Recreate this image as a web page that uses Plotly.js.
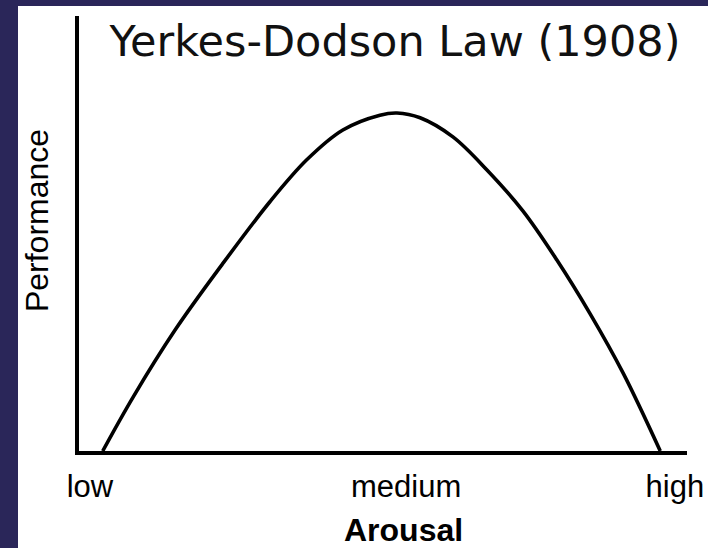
<!DOCTYPE html>
<html>
<head>
<meta charset="utf-8">
<script src="https://cdn.plot.ly/plotly-3.0.1.min.js"></script>
<style>
  html, body { margin: 0; padding: 0; width: 708px; height: 548px; background: #2a2659; overflow: hidden; }
  #chart { position: absolute; left: 18px; top: 6px; width: 690px; height: 542px; background: #ffffff; }
</style>
</head>
<body>
<div id="chart"></div>
<script>
// Data (arousal 0-100, performance 0-100)
const arousal = [3.9, 8.9, 15.8, 23.5, 31.4, 37.5, 43.4, 49.5, 52.3, 56.1, 61.5, 67.1, 73.0, 78.6, 84.0, 89.5, 95.6];
const performance = [0, 12.4, 27.8, 42.8, 57.3, 67.0, 73.8, 77.2, 77.7, 76.6, 72.2, 64.6, 55.2, 43.9, 31.7, 17.9, 0];
const tickPositions = [1.8, 53.8, 98.0];
const tickLabels = ["low", "medium", "high"];
const titleText = "Yerkes-Dodson Law (1908)";
const xTitle = "Arousal";
const yTitle = "Performance";

const trace = {
  x: arousal,
  y: performance,
  type: "scatter",
  mode: "lines",
  line: { color: "#000000", width: 3.6, shape: "spline", smoothing: 1 },
  hoverinfo: "x+y",
  showlegend: false
};

const layout = {
  width: 690,
  height: 542,
  margin: { l: 61, r: 21, t: 10, b: 97 },
  paper_bgcolor: "#ffffff",
  plot_bgcolor: "#ffffff",
  title: {
    text: titleText,
    font: { family: "DejaVu Sans, Verdana, sans-serif", size: 43, color: "#111111" },
    xref: "container", yref: "container",
    x: 0.5464, xanchor: "center",
    y: 0.935, yanchor: "middle"
  },
  xaxis: {
    range: [0, 100],
    showgrid: false, zeroline: false,
    showline: true, linecolor: "#000000", linewidth: 4,
    ticks: "",
    tickmode: "array", tickvals: tickPositions, ticktext: tickLabels,
    tickfont: { family: "Liberation Sans, Arial, sans-serif", size: 31, color: "#000000" },
    ticklabelstandoff: 5,
    fixedrange: true
  },
  yaxis: {
    range: [0, 100],
    showgrid: false, zeroline: false,
    showline: true, linecolor: "#000000", linewidth: 4,
    ticks: "", showticklabels: false,
    fixedrange: true
  },
  annotations: [
    {
      text: xTitle, xref: "paper", yref: "paper",
      x: 0.533, y: -0.1816, xanchor: "center", yanchor: "middle",
      showarrow: false,
      font: { family: "Liberation Sans, Arial, sans-serif", size: 32, color: "#000000", weight: "bold" }
    },
    {
      text: yTitle, xref: "paper", yref: "paper",
      x: -0.069, y: 0.5287, xanchor: "center", yanchor: "middle",
      textangle: -90, showarrow: false,
      font: { family: "Liberation Sans, Arial, sans-serif", size: 32, color: "#000000" }
    }
  ]
};

Plotly.newPlot("chart", [trace], layout, { displayModeBar: false });
</script>
</body>
</html>
